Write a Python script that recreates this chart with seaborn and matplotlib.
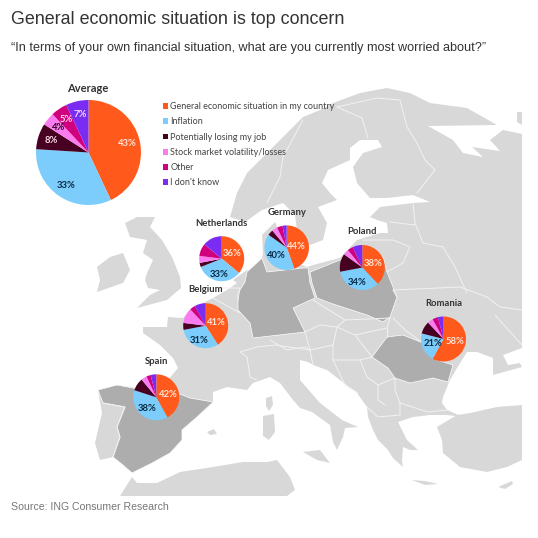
import matplotlib
matplotlib.use("Agg")
import matplotlib.pyplot as plt
from matplotlib.patches import Polygon, Patch
import seaborn as sns

categories = ["General economic situation in my country", "Inflation", "Potentially losing my job",
              "Stock market volatility/losses", "Other", "I don't know"]
colors = ["#FF5A1C", "#7CCDFB", "#470021", "#FB7CF0", "#D1007F", "#7B2CF2"]
text_colors = ["#FFE3D6", "#0B2A45", "#FBD9E6", "#2A0A20", "#FFD5EA", "#EBDDFF"]

countries = ["Average", "Netherlands", "Germany", "Poland", "Belgium", "Spain", "Romania"]
values = {
    "Average": [43, 33, 8, 4, 5, 7],
    "Netherlands": [36, 33, 3, 5, 9, 14],
    "Germany": [44, 40, 4, 4, 4, 3],
    "Poland": [38, 34, 13, 4, 4, 7],
    "Belgium": [41, 31, 5, 11, 4, 8],
    "Spain": [42, 38, 9, 4, 3, 4],
    "Romania": [58, 21, 9, 4, 4, 4],
}
# centre x, centre y, radius in pixels
pie_pos = {
    "Average": (88.5, 152.5, 52.5),
    "Netherlands": (221.7, 258.7, 22.5),
    "Germany": (286.7, 247.7, 22.3),
    "Poland": (362.3, 267.5, 22.5),
    "Belgium": (205.7, 325.7, 22.5),
    "Spain": (156.3, 397.3, 23),
    "Romania": (443.5, 339, 22.5),
}
name_pos = {
    "Average": (88, 88.5),
    "Netherlands": (221.7, 223),
    "Germany": (286.7, 212.5),
    "Poland": (362, 232),
    "Belgium": (206, 290),
    "Spain": (156.7, 361),
    "Romania": (444, 303),
}
# how far out the two big labels sit, as a share of the radius
label_dist = {
    "Netherlands": (0.5, 0.72),
    "Germany": (0.42, 0.58),
    "Poland": (0.52, 0.68),
    "Belgium": (0.5, 0.7),
    "Spain": (0.52, 0.65),
    "Romania": (0.53, 0.5),
}

# base map outlines, traced in picture pixels
mainland = [(230, 217), (237, 193), (247, 173), (267, 153), (287, 133), (303, 117), (320, 110), (333, 103),
            (360, 93), (387, 88), (410, 93), (430, 103), (467, 108), (497, 125), (428, 126), (453, 140),
            (463, 153), (483, 157), (472, 147), (500, 151), (490, 140), (503, 130), (522, 134), (522, 348),
            (503, 355), (508, 365), (520, 363), (522, 367), (493, 375), (493, 358), (477, 352), (467, 352),
            (457, 368), (450, 380), (443, 397), (442, 403), (447, 410), (463, 417), (447, 415), (430, 415),
            (413, 417), (398, 422), (407, 440), (418, 450), (410, 450), (403, 447), (402, 460), (403, 467),
            (393, 458), (388, 450), (378, 440), (373, 430), (368, 417), (367, 407), (357, 393), (340, 380),
            (327, 370), (313, 365), (308, 362), (300, 360), (300, 380), (320, 403), (342, 420), (358, 427),
            (345, 428), (343, 437), (337, 450), (333, 442), (330, 425), (312, 412), (300, 408), (293, 400),
            (280, 383), (270, 377), (253, 383), (247, 390), (227, 387), (213, 392), (213, 403), (197, 417),
            (182, 430), (182, 440), (170, 453), (152, 463), (132, 473), (123, 465), (113, 457), (100, 460),
            (95, 443), (102, 413), (98, 390), (117, 385), (137, 388), (157, 393), (178, 368), (173, 358),
            (160, 345), (143, 333), (143, 327), (167, 327), (168, 317), (183, 318), (193, 308), (213, 298),
            (227, 290), (237, 283), (233, 280), (247, 270), (260, 268), (263, 253), (262, 235), (275, 222),
            (283, 240), (285, 258), (307, 267), (313, 265), (340, 258), (357, 240), (380, 233), (388, 233),
            (387, 223), (377, 220), (370, 217), (380, 207), (413, 203), (430, 202), (413, 195), (387, 198),
            (370, 198), (357, 183), (353, 167), (363, 153), (382, 147), (378, 140), (360, 140), (350, 148),
            (350, 160), (328, 170), (322, 183), (330, 193), (337, 200), (318, 207), (327, 223), (323, 240),
            (310, 245), (298, 238), (295, 215), (283, 203), (262, 210), (245, 222)]
turkey = [(522, 405), (497, 407), (470, 413), (457, 415), (437, 427), (442, 440), (443, 453), (460, 467),
          (487, 472), (507, 467), (522, 460)]
great_britain = [(137, 217), (155, 217), (150, 227), (162, 240), (172, 257), (180, 277), (181, 288), (167, 300),
                 (137, 308), (150, 295), (160, 290), (148, 288), (145, 280), (147, 273), (153, 260), (143, 253),
                 (147, 240), (130, 237), (125, 223)]
ireland = [(110, 257), (123, 253), (130, 270), (123, 283), (97, 292), (100, 280), (97, 267)]
north_africa = [(132, 477), (137, 483), (157, 483), (180, 472), (213, 467), (243, 462), (267, 462), (277, 460),
                (290, 477), (295, 490), (287, 496), (120, 496)]
islands = [
    [(266, 398), (272, 396), (273, 405), (269, 411), (266, 406)],  # Corsica
    [(263, 416), (274, 414), (275, 432), (269, 440), (263, 436)],  # Sardinia
    [(303, 452), (320, 450), (330, 463), (317, 460)],  # Sicily
    [(207, 432), (214, 429), (217, 434), (210, 435)],  # Balearics
    [(412, 480), (425, 481), (438, 484), (425, 485)],  # Crete
    [(498, 487), (512, 481), (513, 484), (505, 489)],  # Cyprus
    [(517, 112), (522, 112), (522, 125), (517, 122)],  # Kanin
    [(318, 228), (321, 224), (321, 231), (318, 233)],  # Gotland
]
germany = [(247, 272), (262, 258), (267, 272), (303, 268), (308, 268), (310, 283), (315, 298), (293, 308),
           (303, 328), (305, 332), (253, 338), (250, 323), (238, 310), (238, 293), (245, 282)]
poland = [(310, 272), (340, 260), (383, 257), (387, 272), (397, 297), (390, 317), (383, 322), (367, 315),
          (330, 303), (317, 298), (312, 283)]
spain = [(98, 390), (117, 385), (133, 388), (157, 395), (177, 393), (190, 398), (213, 402), (197, 417), (182, 430),
         (182, 440), (170, 453), (152, 463), (132, 473), (123, 465), (113, 457), (120, 437), (117, 427), (125, 407),
         (103, 403)]
romania = [(387, 337), (403, 335), (423, 343), (437, 360), (453, 365), (448, 382), (433, 378), (410, 383),
           (395, 378), (388, 368), (372, 357)]
borders = [
    [(337, 107), (362, 118), (368, 138)],
    [(303, 120), (283, 157), (280, 177), (267, 203)],
    [(337, 107), (377, 98), (400, 100), (407, 127), (417, 143), (425, 160), (435, 170), (417, 193)],
    [(413, 203), (415, 223), (423, 243), (443, 247), (455, 267), (467, 293)],
    [(390, 222), (415, 225)],
    [(363, 240), (393, 240), (410, 247), (403, 263), (387, 272)],
    [(397, 297), (393, 290), (460, 287), (487, 297), (500, 307), (522, 310)],
    [(313, 300), (345, 320), (337, 327), (320, 325), (305, 332)],
    [(345, 320), (390, 318), (387, 328), (355, 335), (337, 327)],
    [(305, 332), (310, 350), (275, 345), (257, 347), (240, 352)],
    [(337, 327), (333, 345), (310, 350)],
    [(355, 335), (372, 357), (360, 360), (333, 360), (333, 345)],
    [(387, 337), (387, 328)],
    [(240, 352), (247, 357), (250, 377), (257, 380)],
    [(213, 298), (240, 313)], [(222, 288), (240, 288), (238, 300)],
    [(270, 340), (287, 350), (305, 347), (310, 350)],
    [(310, 350), (313, 365)],
    [(333, 360), (345, 385), (358, 393)],
    [(360, 360), (367, 377), (378, 385), (395, 378)],
    [(395, 378), (395, 390), (400, 403), (428, 412), (447, 410)],
    [(367, 407), (378, 417), (400, 415), (400, 403)],
    [(378, 385), (378, 400), (385, 405)],
    [(443, 340), (437, 360)],
    [(423, 343), (405, 330), (393, 318)],
    [(103, 403), (125, 407), (117, 427), (120, 437), (113, 457)],
    [(495, 315), (522, 345)],
]

sns.set_theme(style="white")
plt.rcParams["font.family"] = ["Lato", "DejaVu Sans"]
palette = sns.color_palette(colors)

fig = plt.figure(figsize=(5.38, 5.38), dpi=100)
ax = fig.add_axes([0, 0, 1, 1])
ax.set_xlim(0, 538)
ax.set_ylim(538, 0)
ax.axis("off")

LAND = "#D8D8D8"
DARK = "#ADADAD"
for shape in [mainland, turkey, great_britain, ireland, north_africa] + islands:
    ax.add_patch(Polygon(shape, closed=True, fc=LAND, ec="none"))
for shape in [germany, poland, spain, romania]:
    ax.add_patch(Polygon(shape, closed=True, fc=DARK, ec="white", lw=0.5))
for line in borders:
    ax.plot([p[0] for p in line], [p[1] for p in line], color="#F2F2F2", lw=0.7)

for name in countries:
    x, y, r = pie_pos[name]
    vals = values[name]
    pax = fig.add_axes([(x - r) / 538, 1 - (y + r) / 538, 2 * r / 538, 2 * r / 538])
    # smaller pies only label the two largest slices
    labels = [f"{v}%" if name == "Average" or i < 2 else "" for i, v in enumerate(vals)]
    wedges, texts = pax.pie(vals, colors=palette, startangle=90, counterclock=False, radius=1,
                            labels=labels, labeldistance=0.75, wedgeprops={"linewidth": 0, "edgecolor": "none"},
                            textprops={"fontsize": 6.8, "va": "center", "fontweight": "bold"})
    for i, (t, c) in enumerate(zip(texts, text_colors)):
        t.set_color(c)
        t.set_ha("center")
        if name in label_dist and i < 2:
            px, py = t.get_position()
            t.set_position((px / 0.75 * label_dist[name][i], py / 0.75 * label_dist[name][i]))
    pax.set_xlim(-1, 1)
    pax.set_ylim(-1, 1)
    pax.axis("off")
    nx, ny = name_pos[name]
    ax.text(nx, ny, name, ha="center", va="center", fontsize=8 if name == "Average" else 6.8,
            fontweight="bold", color="#333333")

handles = [Patch(fc=c, ec="none", label=l) for c, l in zip(palette, categories)]
ax.legend(handles=handles, loc="upper left", bbox_to_anchor=(162.5 / 538, 1 - 102.2 / 538), frameon=False,
          fontsize=6.46, labelspacing=0.69, handlelength=0.62, handleheight=0.62, handletextpad=0.25,
          borderpad=0, borderaxespad=0, labelcolor="#444444")

fig.text(11 / 538, 1 - 19.5 / 538, "General economic situation is top concern", family="Liberation Sans",
         fontsize=12.9, color="#333333", va="center")
fig.text(11 / 538, 1 - 48 / 538, "\u201cIn terms of your own financial situation, what are you currently most worried about?\u201d",
         family="Liberation Sans", fontsize=9.07, color="#333333", va="center")
fig.text(11 / 538, 1 - 507 / 538, "Source: ING Consumer Research", family="Liberation Sans",
         fontsize=7.6, color="#777777", va="center")

fig.savefig("out.png", dpi=100)
